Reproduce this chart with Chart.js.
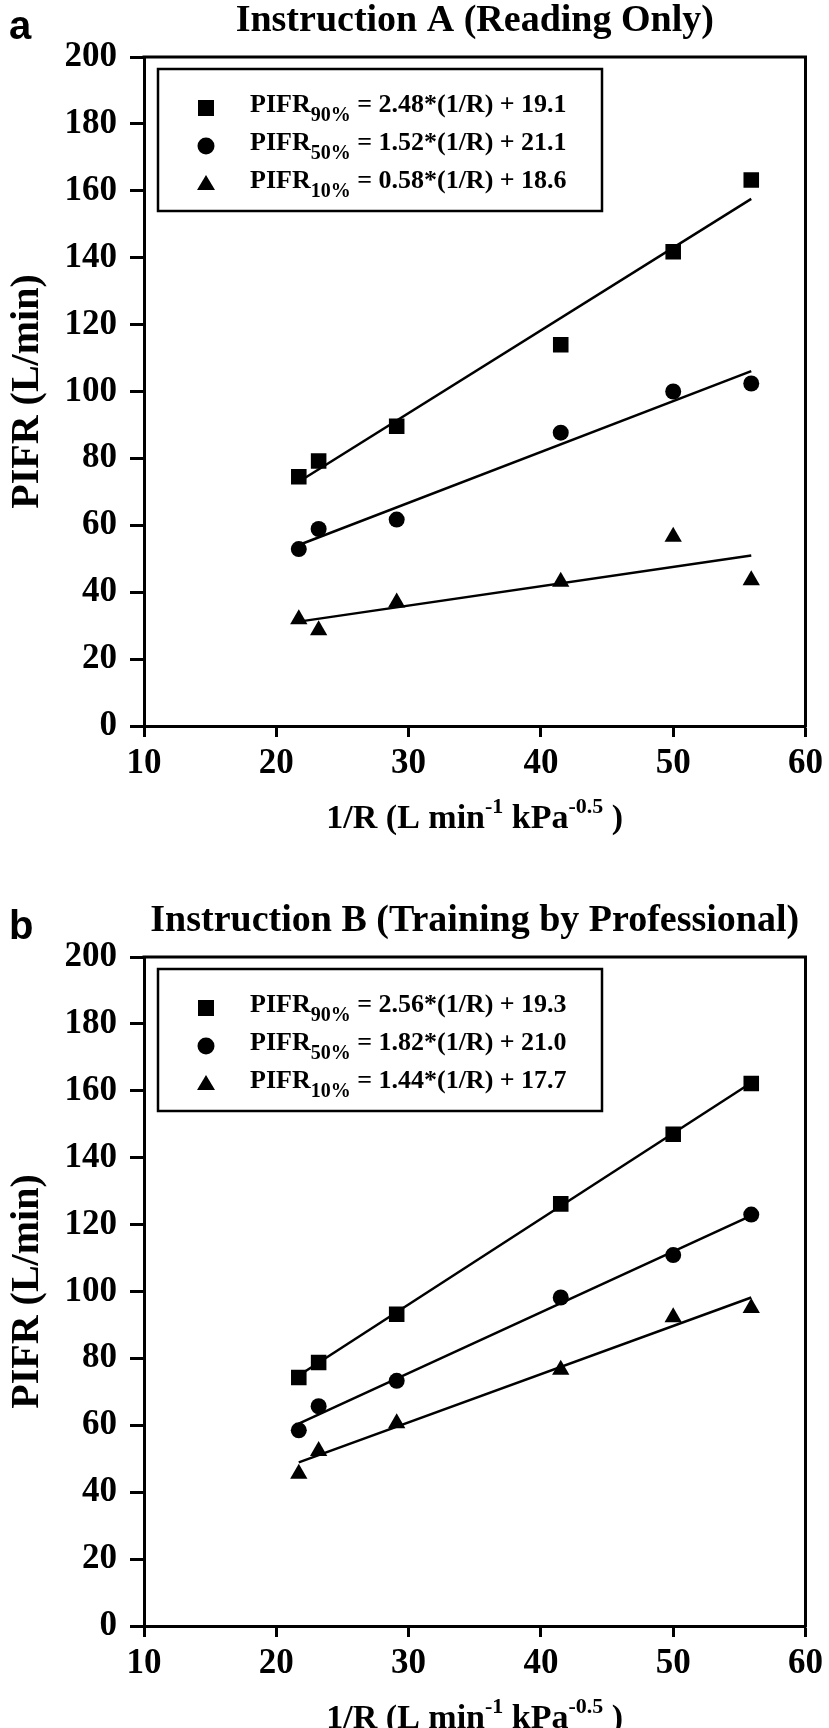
<!DOCTYPE html>
<html>
<head>
<meta charset="utf-8">
<script src="https://cdn.jsdelivr.net/npm/chart.js@4.4.1/dist/chart.umd.min.js"></script>
<style>
  html, body { margin: 0; padding: 0; background: #fff; }
  .panel { position: relative; width: 829px; }
  #panelA { height: 900px; }
  #panelB { height: 828px; }
</style>
</head>
<body>
<div class="panel" id="panelA"><canvas id="chartA"></canvas></div>
<div class="panel" id="panelB"><canvas id="chartB"></canvas></div>
<script>
var xValues = [21.7, 23.2, 29.1, 41.5, 50.0, 55.9];

// Instruction A (reading only)
var aPifr90 = [74.5, 79.2, 89.6, 114.0, 141.8, 163.2];
var aPifr50 = [52.9, 58.9, 61.7, 87.7, 100.0, 102.4];
var aPifr10 = [31.9, 28.6, 36.9, 43.1, 56.6, 43.6];

// Instruction B (training by professional)
var bPifr90 = [74.3, 78.8, 93.2, 126.2, 147.0, 162.2];
var bPifr50 = [58.5, 65.7, 73.3, 98.2, 110.9, 123.0];
var bPifr10 = [45.5, 52.3, 60.6, 76.6, 92.3, 95.1];

var fitX = [21.7, 55.9];
var aFit90 = [73.0, 157.6];
var aFit50 = [54.1, 106.1];
var aFit10 = [31.2, 51.0];
var bFit90 = [74.9, 162.4];
var bFit50 = [60.5, 122.7];
var bFit10 = [48.9, 98.2];

var xTicks = [10, 20, 30, 40, 50, 60];
var yTicks = [0, 20, 40, 60, 80, 100, 120, 140, 160, 180, 200];

var subLabels = ['90%', '50%', '10%'];
var aEquations = [' = 2.48*(1/R) + 19.1', ' = 1.52*(1/R) + 21.1', ' = 0.58*(1/R) + 18.6'];
var bEquations = [' = 2.56*(1/R) + 19.3', ' = 1.82*(1/R) + 21.0', ' = 1.44*(1/R) + 17.7'];

var serif = '"Liberation Serif", "Times New Roman", serif';
var markerStyles = ['rect', 'circle', 'triangle'];
var markerRadius = [11, 8, 10];

function pts(xs, ys) {
  return xs.map(function (x, i) { return { x: x, y: ys[i] }; });
}

// draws a run of text pieces, each with its own size and vertical shift
function drawRich(ctx, parts, x, y, align) {
  var total = 0;
  parts.forEach(function (p) {
    ctx.font = 'bold ' + p.size + 'px ' + serif;
    p.w = ctx.measureText(p.text).width;
    total += p.w;
  });
  var cx = align === 'center' ? x - total / 2 : x;
  ctx.textAlign = 'left';
  ctx.textBaseline = 'alphabetic';
  parts.forEach(function (p) {
    ctx.font = 'bold ' + p.size + 'px ' + serif;
    ctx.fillText(p.text, cx, y + (p.dy || 0));
    cx += p.w;
  });
}

function drawMarker(ctx, style, x, y) {
  ctx.beginPath();
  if (style === 'rect') {
    ctx.rect(x - 8, y - 8, 16, 16);
  } else if (style === 'circle') {
    ctx.arc(x, y, 8.5, 0, Math.PI * 2);
  } else {
    ctx.moveTo(x, y - 9);
    ctx.lineTo(x + 9, y + 6);
    ctx.lineTo(x - 9, y + 6);
    ctx.closePath();
  }
  ctx.fill();
}

var decorPlugin = {
  id: 'decor',
  afterDraw: function (chart, args, opts) {
    var ctx = chart.ctx;
    var a = chart.chartArea;
    ctx.save();
    ctx.fillStyle = '#000';
    ctx.strokeStyle = '#000';

    // top and right frame lines
    ctx.lineWidth = 3;
    ctx.beginPath();
    ctx.moveTo(a.left - 1.5, a.top);
    ctx.lineTo(a.right, a.top);
    ctx.lineTo(a.right, a.bottom + 1.5);
    ctx.stroke();

    // panel letter and title
    ctx.font = 'bold 40px "Liberation Sans", Arial, sans-serif';
    ctx.textAlign = 'left';
    ctx.textBaseline = 'alphabetic';
    ctx.fillText(opts.letter, 9, a.top - 18);
    ctx.font = 'bold 38px ' + serif;
    ctx.textAlign = 'center';
    ctx.fillText(opts.title, (a.left + a.right) / 2, a.top - 26);

    // legend box
    ctx.lineWidth = 2.5;
    ctx.strokeRect(a.left + 14, a.top + 12, 444, 142);
    var rows = [51, 89, 127];
    for (var i = 0; i < 3; i++) {
      var ry = a.top + rows[i];
      drawMarker(ctx, markerStyles[i], a.left + 62, ry);
      drawRich(ctx, [
        { text: 'PIFR', size: 26 },
        { text: subLabels[i], size: 20, dy: 9 },
        { text: opts.equations[i], size: 26 }
      ], a.left + 106, ry + 4, 'left');
    }

    // x axis title with superscripts
    drawRich(ctx, [
      { text: '1/R (L min', size: 34 },
      { text: '-1', size: 22, dy: -15 },
      { text: ' kPa', size: 34 },
      { text: '-0.5', size: 22, dy: -15 },
      { text: ' )', size: 34 }
    ], (a.left + a.right) / 2, a.bottom + 102, 'center');

    ctx.restore();
  }
};

function makeChart(id, panel) {
  var datasets = [];
  var series = [panel.p90, panel.p50, panel.p10];
  var fits = [panel.f90, panel.f50, panel.f10];
  for (var i = 0; i < 3; i++) {
    datasets.push({
      data: pts(fitX, fits[i]),
      showLine: true,
      borderColor: '#000',
      borderWidth: 2.5,
      pointRadius: 0,
      fill: false
    });
  }
  for (var j = 0; j < 3; j++) {
    datasets.push({
      data: pts(xValues, series[j]),
      showLine: false,
      pointStyle: markerStyles[j],
      pointRadius: markerRadius[j],
      pointBackgroundColor: '#000',
      pointBorderColor: '#000',
      pointBorderWidth: 0
    });
  }

  return new Chart(document.getElementById(id), {
    type: 'scatter',
    data: { datasets: datasets },
    plugins: [decorPlugin],
    options: {
      responsive: true,
      maintainAspectRatio: false,
      animation: false,
      layout: { padding: { top: 57, right: 17, bottom: 0, left: 0 } },
      plugins: {
        legend: { display: false },
        tooltip: { enabled: false },
        decor: { letter: panel.letter, title: panel.title, equations: panel.equations }
      },
      scales: {
        x: {
          type: 'linear',
          min: xTicks[0],
          max: xTicks[xTicks.length - 1],
          afterBuildTicks: function (s) { s.ticks = xTicks.map(function (v) { return { value: v }; }); },
          afterFit: function (s) { s.height = panel.xHeight; },
          ticks: {
            color: '#000',
            padding: 6,
            maxRotation: 0,
            autoSkip: false,
            font: { family: serif, size: 35, weight: 'bold' }
          },
          grid: { drawOnChartArea: false, drawTicks: true, tickLength: 11, tickWidth: 3, tickColor: '#000' },
          border: { display: true, width: 3, color: '#000' }
        },
        y: {
          type: 'linear',
          min: yTicks[0],
          max: yTicks[yTicks.length - 1],
          afterBuildTicks: function (s) { s.ticks = yTicks.map(function (v) { return { value: v }; }); },
          afterFit: function (s) { s.width = 144; },
          ticks: {
            color: '#000',
            padding: 13,
            autoSkip: false,
            font: { family: serif, size: 35, weight: 'bold' }
          },
          grid: { drawOnChartArea: false, drawTicks: true, tickLength: 14, tickWidth: 3, tickColor: '#000' },
          border: { display: true, width: 3, color: '#000' },
          title: {
            display: true,
            text: 'PIFR (L/min)',
            color: '#000',
            padding: { top: 4, bottom: 0 },
            font: { family: serif, size: 40, weight: 'bold' }
          }
        }
      }
    }
  });
}

makeChart('chartA', {
  letter: 'a', title: 'Instruction A (Reading Only)', equations: aEquations,
  p90: aPifr90, p50: aPifr50, p10: aPifr10,
  f90: aFit90, f50: aFit50, f10: aFit10,
  xHeight: 900 - 726
});

makeChart('chartB', {
  letter: 'b', title: 'Instruction B (Training by Professional)', equations: bEquations,
  p90: bPifr90, p50: bPifr50, p10: bPifr10,
  f90: bFit90, f50: bFit50, f10: bFit10,
  xHeight: 828 - 726
});
</script>
</body>
</html>
